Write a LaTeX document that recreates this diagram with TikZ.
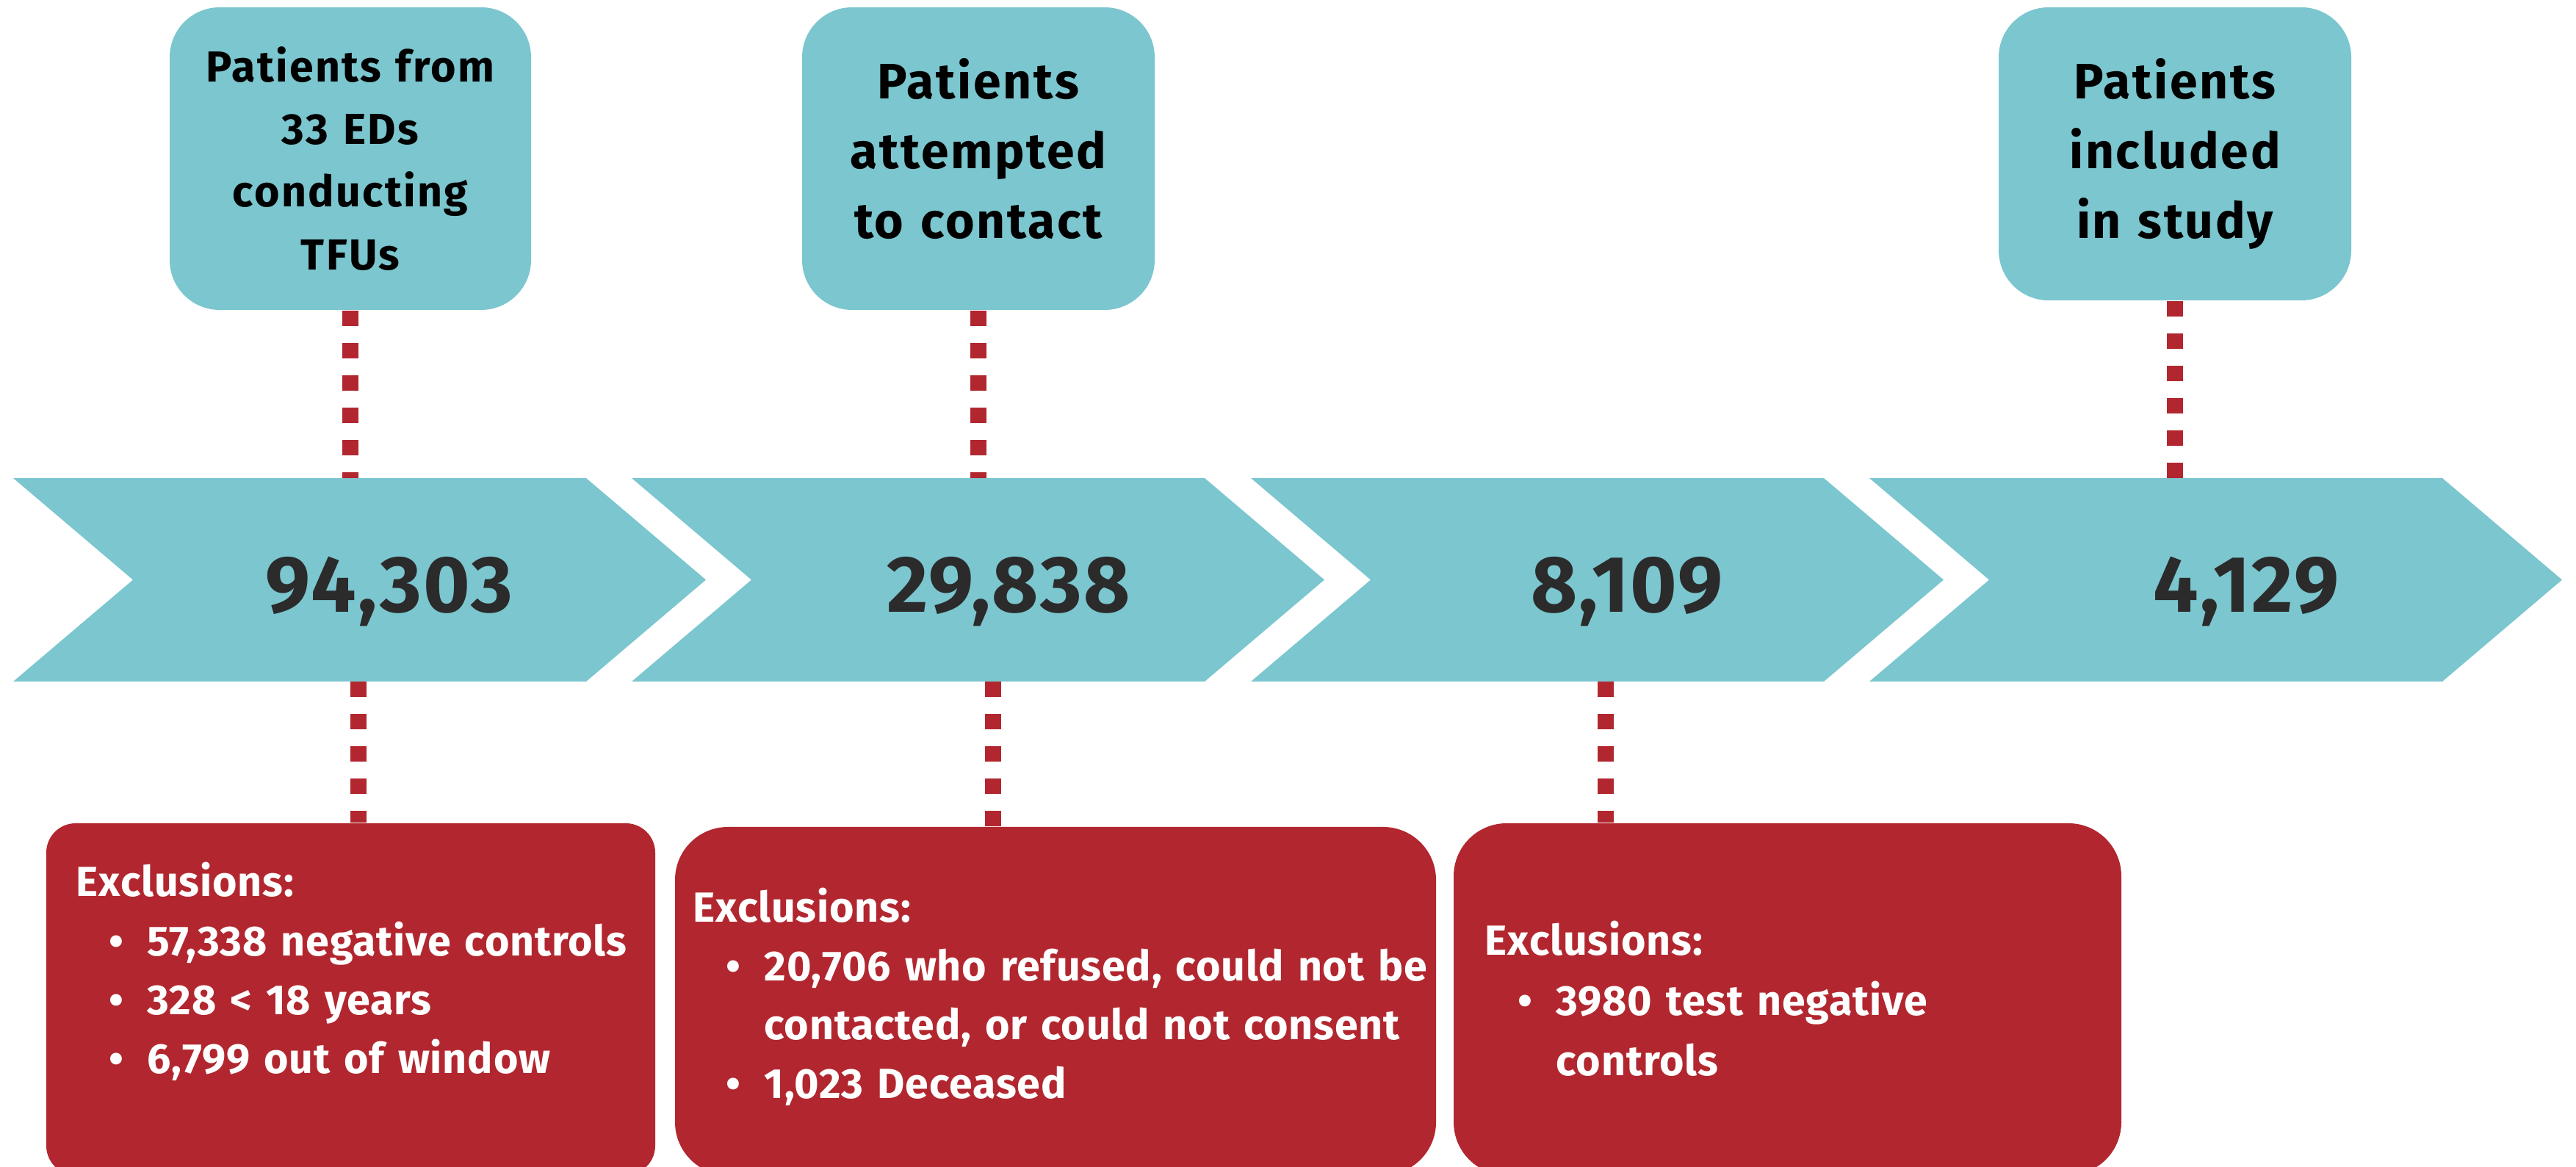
\documentclass[tikz,border=0pt]{standalone}
\usepackage{fontspec}
\setmainfont{Fira Sans}
\usetikzlibrary{positioning}
\definecolor{tealbox}{HTML}{7BC6CF}
\definecolor{redbox}{HTML}{B2272F}
\definecolor{numgray}{HTML}{2B2B2B}
\newcommand{\exitem}[1]{\hspace*{0.45cm}\makebox[0.52cm][l]{\textbullet}#1}
\tikzset{
  topbox/.style={fill=tealbox, rounded corners=0.68cm, minimum width=4.80cm, minimum height=4.12cm,
    text width=4.4cm, align=center, inner sep=0pt,
    font=\bfseries\fontsize{19.3}{27}\selectfont\addfontfeature{LetterSpace=4}},
  exbox/.style={fill=redbox, rounded corners=0.72cm, inner sep=0pt},
  extext/.style={text=white, text width=10.5cm, align=left, anchor=base west, inner sep=0pt,
    font=\bfseries\fontsize{16.3}{22.8}\selectfont\addfontfeature{LetterSpace=1.5}},
  num/.style={text=numgray, anchor=base, inner sep=0pt,
    font=\bfseries\fontsize{31}{31}\selectfont\addfontfeature{LetterSpace=2}},
  link/.style={draw=redbox, line width=0.22cm, dash pattern=on 0.21cm off 0.23cm},
  chevron/.style={fill=tealbox}
}
\begin{document}
\begin{tikzpicture}
    \useasboundingbox (0,0) rectangle (35.07,-15.89);
    \clip (0,0) rectangle (35.07,-15.89);

    \foreach \x [count=\i] in {0.18,8.60,17.03,25.45} {
        \fill[chevron] (\x,-6.51) -- ++(7.80,0) -- ++(1.63,-1.385) -- ++(-1.63,-1.385)
            -- ++(-7.80,0) -- ++(1.63,1.385) -- cycle;
        \coordinate (c\i t) at (\x,-6.51);
    }
    \node[num] (n1) at (5.30,-8.34) {94,303};
    \node[num] (n2) at (13.73,-8.34) {29,838};
    \node[num] (n3) at (22.15,-8.34) {8,109};
    \node[num] (n4) at (30.58,-8.34) {4,129};
    \coordinate (d1) at (4.88,-9.28);
    \coordinate (d2) at (13.52,-9.28);
    \coordinate (d3) at (21.86,-9.28);

    \node[topbox, minimum width=4.92cm,
        font=\bfseries\fontsize{16.8}{24.2}\selectfont\addfontfeature{LetterSpace=4}] (p1) at (4.77,-2.16)
        {Patients from\\33 EDs\\conducting\\TFUs};
    \node[topbox] (p2) at (13.32,-2.16) {Patients\\attempted\\to contact\strut};
    \node[topbox, minimum height=3.99cm] (p4) at (29.61,-2.095) {Patients\\included\\in study};

    \node[exbox, rounded corners=0.40cm, minimum width=8.29cm, minimum height=4.79cm] (ex1) at (4.775,-13.605) {};
    \node[exbox, minimum width=10.36cm, minimum height=4.74cm] (ex2) at (14.37,-13.63) {};
    \node[exbox, minimum width=9.09cm, minimum height=4.79cm] (ex3) at (24.335,-13.605) {};

    \draw[link] (p1.south) -- (p1.south |- c1t);
    \draw[link] (p2.south) -- (p2.south |- c2t);
    \draw[link] (p4.south) -- (p4.south |- c4t);
    \draw[link] (d1) -- (d1 |- ex1.north);
    \draw[link] (d2) -- (d2 |- ex2.north);
    \draw[link] (d3) -- (d3 |- ex3.north);

    \node[extext] (t1) at (1.03,-12.21)
        {Exclusions:\\\exitem{57,338 negative controls}\\\exitem{328 < 18 years}\\\exitem{6,799 out of window}};
    \node[extext] (t2) at (9.43,-12.55)
        {Exclusions:\\\exitem{20,706 who refused, could not be}\\\hspace*{0.97cm}contacted, or could not consent\\\exitem{1,023 Deceased}};
    \node[extext, font=\bfseries\fontsize{16.3}{23.4}\selectfont\addfontfeature{LetterSpace=1.5}] (t3) at (20.21,-13.00)
        {Exclusions:\\\exitem{3980 test negative}\\\hspace*{0.97cm}controls};
\end{tikzpicture}
\end{document}
